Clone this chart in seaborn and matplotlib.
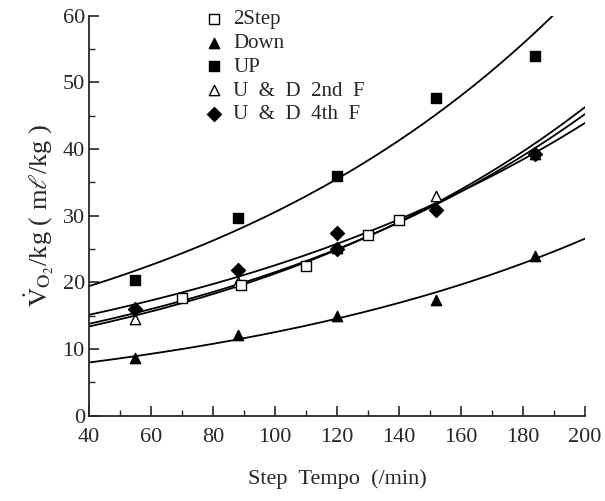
import numpy as np
import pandas as pd
import matplotlib
matplotlib.use("Agg")
import matplotlib.pyplot as plt
import seaborn as sns

# values
step_x = [70, 89, 110, 130, 140]
step_y = [17.6, 19.6, 22.5, 27.1, 29.4]

down_x = [55, 88, 120, 152, 184]
down_y = [8.6, 12.1, 15.0, 17.4, 24.0]

up_x = [55, 88, 120, 152, 184]
up_y = [20.4, 29.6, 36.0, 47.7, 54.0]

# points at 120 and 184 sit under the diamonds
ud2_x = [55, 88, 120, 152, 184]
ud2_y = [14.5, 20.0, 25.2, 33.0, 39.3]

ud4_x = [55, 88, 120, 120, 152, 184]
ud4_y = [16.0, 21.9, 27.4, 25.0, 30.9, 39.3]

labels = ["2Step", "Down", "UP", "U  &  D  2nd  F", "U  &  D  4th  F"]

sns.set_style("ticks")
plt.rcParams["font.family"] = ["Liberation Serif", "DejaVu Serif"]
plt.rcParams["mathtext.fontset"] = "stix"

fig = plt.figure(figsize=(6.05, 5.01), dpi=100)
ax = fig.add_axes([0.147, 0.17, 0.820, 0.799])

series = [
    (step_x, step_y, "s", "white", labels[0]),
    (down_x, down_y, "^", "black", labels[1]),
    (up_x, up_y, "s", "black", labels[2]),
    (ud2_x, ud2_y, "^", "white", labels[3]),
    (ud4_x, ud4_y, "D", "black", labels[4]),
]

# exponential fit curves (log-linear regression of each series)
xs = np.linspace(40, 200, 200)
for x, y, m, fc, lab in series:
    b, a = np.polyfit(x, np.log(y), 1)
    fit = pd.DataFrame({"x": xs, "y": np.exp(a + b * xs)})
    sns.lineplot(data=fit, x="x", y="y", color="black", lw=1.3, ax=ax, legend=False)

# draw hidden 2nd F points first so diamonds cover them
order = [3, 0, 1, 2, 4]
for i in order:
    x, y, m, fc, lab = series[i]
    df = pd.DataFrame({"x": x, "y": y})
    size = 55 if m != "D" else 50
    sns.scatterplot(data=df, x="x", y="y", marker=m, s=size, color=fc,
                    edgecolor="black", linewidth=1.0, label=lab, ax=ax, zorder=3)

ax.set_xlim(40, 200)
ax.set_ylim(0, 60)
ax.set_xticks(range(40, 201, 20))
ax.set_xticks(range(50, 200, 20), minor=True)
ax.set_yticks(range(0, 61, 10))
ax.set_yticks(range(5, 60, 10), minor=True)
ax.tick_params(which="major", direction="in", length=7, width=1.2, labelsize=16)
ax.tick_params(which="minor", direction="in", length=4, width=1.0)
ax.tick_params(axis="x", pad=9)
ax.tick_params(axis="y", pad=3)
for s in ["top", "right"]:
    ax.spines[s].set_visible(False)
for s in ["left", "bottom"]:
    ax.spines[s].set_linewidth(1.3)

ax.set_xlabel("Step  Tempo  (/min)", fontsize=16, labelpad=16)
ax.set_ylabel(r"$\dot{\mathrm{V}}_{\mathrm{O}_2}$/kg ( m$\ell$/kg )", fontsize=19, labelpad=5)

handles, labs = ax.get_legend_handles_labels()
hmap = dict(zip(labs, handles))
ax.legend([hmap[l] for l in labels], labels, loc="upper left",
          bbox_to_anchor=(0.215, 1.035), frameon=False,
          fontsize=15, handletextpad=0.4, labelspacing=0.2, borderaxespad=0,
          handlelength=1.0)

fig.savefig("out.png", dpi=100)
